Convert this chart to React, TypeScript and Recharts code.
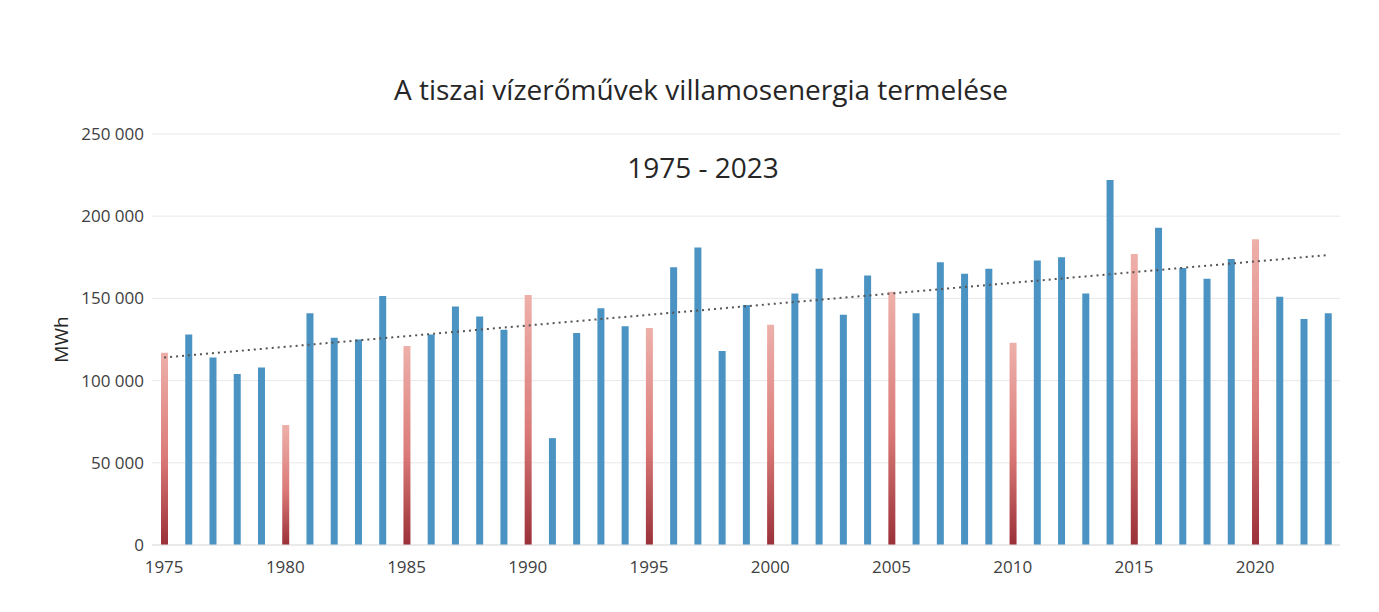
import React from "react";
import {
  ComposedChart,
  Bar,
  Line,
  Cell,
  XAxis,
  YAxis,
  CartesianGrid,
} from "recharts";

const years = [
  1975, 1976, 1977, 1978, 1979, 1980, 1981, 1982, 1983, 1984,
  1985, 1986, 1987, 1988, 1989, 1990, 1991, 1992, 1993, 1994,
  1995, 1996, 1997, 1998, 1999, 2000, 2001, 2002, 2003, 2004,
  2005, 2006, 2007, 2008, 2009, 2010, 2011, 2012, 2013, 2014,
  2015, 2016, 2017, 2018, 2019, 2020, 2021, 2022, 2023,
];

// MWh
const production = [
  117000, 128000, 114000, 104000, 108000, 73000, 141000, 126000, 125000, 151500,
  121000, 128000, 145000, 139000, 131000, 152000, 65000, 129000, 144000, 133000,
  132000, 169000, 181000, 118000, 146000, 134000, 153000, 168000, 140000, 164000,
  154000, 141000, 172000, 165000, 168000, 123000, 173000, 175000, 153000, 222000,
  177000, 193000, 168500, 162000, 174000, 186000, 151000, 137500, 141000,
];

const yTicks = [0, 50000, 100000, 150000, 200000, 250000];

const title = "A tiszai vízerőművek villamosenergia termelése";
const subtitle = "1975 - 2023";

const BLUE = "#4a93c2";
const FONT = "'Open Sans', sans-serif";

// linear trend (least squares), like the spreadsheet trendline
function trend(ys: number[]) {
  const n = ys.length;
  const xm = (n - 1) / 2;
  const ym = ys.reduce((a, b) => a + b, 0) / n;
  let sxy = 0;
  let sxx = 0;
  ys.forEach((y, i) => {
    sxy += (i - xm) * (y - ym);
    sxx += (i - xm) * (i - xm);
  });
  const k = sxy / sxx;
  return ys.map((_, i) => ym + k * (i - xm));
}

const trendValues = trend(production);

const data = years.map((year, i) => ({
  year,
  value: production[i],
  trend: trendValues[i],
}));

const fmt = (v: number) =>
  v === 0 ? "0" : String(v).replace(/\B(?=(\d{3})+(?!\d))/g, " ");

export default function App() {
  return (
    <div style={{ position: "relative", width: 1363, height: 596, background: "#fff", fontFamily: FONT }}>
      <div
        style={{
          position: "absolute",
          left: 0,
          width: 1386,
          top: 67,
          textAlign: "center",
          fontSize: 28,
          lineHeight: "28px",
          color: "#262626",
        }}
      >
        {title}
      </div>
      <div
        style={{
          position: "absolute",
          left: 0,
          width: 1390,
          top: 145,
          textAlign: "center",
          fontSize: 28,
          lineHeight: "28px",
          color: "#262626",
        }}
      >
        {subtitle}
      </div>
      <ComposedChart
        width={1363}
        height={596}
        data={data}
        margin={{ top: 126, right: 31, left: 0, bottom: 0 }}
        barCategoryGap={0}
      >
        <defs>
          <linearGradient id="redFade" x1="0" y1="0" x2="0" y2="1">
            <stop offset="0%" stopColor="#eeb0aa" />
            <stop offset="55%" stopColor="#da7a78" />
            <stop offset="100%" stopColor="#9a3038" />
          </linearGradient>
        </defs>
        <CartesianGrid vertical={false} stroke="#e8e8e8" />
        <XAxis
          dataKey="year"
          interval={4}
          tickLine={false}
          axisLine={{ stroke: "#e0e0e0" }}
          tick={{ fontSize: 17, fill: "#404040", fontFamily: FONT }}
          tickMargin={10}
          height={59}
        />
        <YAxis
          domain={[0, 250000]}
          ticks={yTicks}
          tickFormatter={fmt}
          axisLine={false}
          tickLine={false}
          width={144}
          tick={{ fontSize: 17, fill: "#404040", fontFamily: FONT }}
          label={{
            value: "MWh",
            angle: -90,
            position: "insideLeft",
            offset: 53,
            style: { fontSize: 19, fill: "#262626", fontFamily: FONT, textAnchor: "middle" },
          }}
        />
        <Bar dataKey="value" barSize={7} isAnimationActive={false}>
          {data.map((d) => (
            <Cell key={d.year} fill={d.year % 5 === 0 ? "url(#redFade)" : BLUE} />
          ))}
        </Bar>
        <Line
          dataKey="trend"
          type="linear"
          stroke="#555"
          strokeWidth={2}
          strokeDasharray="2 4"
          dot={false}
          activeDot={false}
          isAnimationActive={false}
        />
      </ComposedChart>
    </div>
  );
}
